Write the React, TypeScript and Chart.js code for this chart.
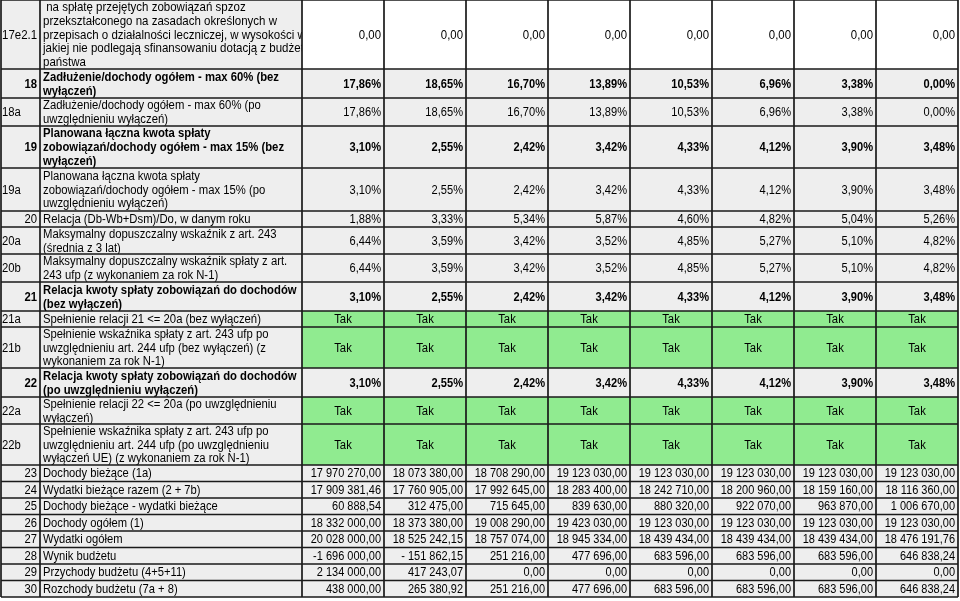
import { useEffect, useRef } from 'react';
import { Chart, registerables } from 'chart.js';

Chart.register(...registerables);

// ---------- DATA ----------
const hospitalDebtRepay = [0, 0, 0, 0, 0, 0, 0, 0];
const debtToIncome = [17.86, 18.65, 16.7, 13.89, 10.53, 6.96, 3.38, 0.0];
const repaymentToIncome = [3.1, 2.55, 2.42, 3.42, 4.33, 4.12, 3.9, 3.48];
const relationDbWbDsm = [1.88, 3.33, 5.34, 5.87, 4.6, 4.82, 5.04, 5.26];
const maxIndicatorAvg = [6.44, 3.59, 3.42, 3.52, 4.85, 5.27, 5.1, 4.82];
const maxIndicatorN1 = [6.44, 3.59, 3.42, 3.52, 4.85, 5.27, 5.1, 4.82];
const check21a = ['Tak', 'Tak', 'Tak', 'Tak', 'Tak', 'Tak', 'Tak', 'Tak'];
const check21b = ['Tak', 'Tak', 'Tak', 'Tak', 'Tak', 'Tak', 'Tak', 'Tak'];
const check22a = ['Tak', 'Tak', 'Tak', 'Tak', 'Tak', 'Tak', 'Tak', 'Tak'];
const check22b = ['Tak', 'Tak', 'Tak', 'Tak', 'Tak', 'Tak', 'Tak', 'Tak'];
const currentIncome = [17970270, 18073380, 18708290, 19123030, 19123030, 19123030, 19123030, 19123030];
const currentExpenses = [17909381.46, 17760905, 17992645, 18283400, 18242710, 18200960, 18159160, 18116360];
const currentBalance = [60888.54, 312475, 715645, 839630, 880320, 922070, 963870, 1006670];
const totalIncome = [18332000, 18373380, 19008290, 19423030, 19123030, 19123030, 19123030, 19123030];
const totalExpenses = [20028000, 18525242.15, 18757074, 18945334, 18439434, 18439434, 18439434, 18476191.76];
const budgetResult = [-1696000, -151862.15, 251216, 477696, 683596, 683596, 683596, 646838.24];
const budgetRevenues = [2134000, 417243.07, 0, 0, 0, 0, 0, 0];
const budgetOutflows = [438000, 265380.92, 251216, 477696, 683596, 683596, 683596, 646838.24];

// ---------- FORMATTERS ----------
const fmtNum = (v: number) => v.toFixed(2).replace('.', ',');
const fmtPct = (v: number) => v.toFixed(2).replace('.', ',') + '%';
const fmtMoney = (v: number) => {
  const abs = Math.abs(v);
  const [i, d] = abs.toFixed(2).split('.');
  const g = i.replace(/\B(?=(\d{3})+(?!\d))/g, ' ');
  const sign = v < 0 ? (abs < 1e6 ? '- ' : '-') : '';
  return sign + g + ',' + d;
};

type Tone = 'white' | 'gray' | 'green';
type Kind = 'head' | 'pct' | 'check' | 'money';
type Row = { id: string; label: string[]; values: string[]; bold?: boolean; tone: Tone; kind: Kind };

const rows: Row[] = [
  {
    id: '17e2.1',
    label: [
      ' na spłatę przejętych zobowiązań spzoz',
      'przekształconego na zasadach określonych w',
      'przepisach o działalności leczniczej, w wysokości w',
      'jakiej nie podlegają sfinansowaniu dotacją z budżetu',
      'państwa',
    ],
    values: hospitalDebtRepay.map(fmtNum),
    tone: 'white',
    kind: 'head',
  },
  { id: '18', label: ['Zadłużenie/dochody ogółem - max 60% (bez', 'wyłączeń)'], values: debtToIncome.map(fmtPct), bold: true, tone: 'gray', kind: 'pct' },
  { id: '18a', label: ['Zadłużenie/dochody ogółem - max 60% (po', 'uwzględnieniu wyłączeń)'], values: debtToIncome.map(fmtPct), tone: 'gray', kind: 'pct' },
  { id: '19', label: ['Planowana łączna kwota spłaty', 'zobowiązań/dochody ogółem - max 15% (bez', 'wyłączeń)'], values: repaymentToIncome.map(fmtPct), bold: true, tone: 'gray', kind: 'pct' },
  { id: '19a', label: ['Planowana łączna kwota spłaty', 'zobowiązań/dochody ogółem - max 15% (po', 'uwzględnieniu wyłączeń)'], values: repaymentToIncome.map(fmtPct), tone: 'gray', kind: 'pct' },
  { id: '20', label: ['Relacja (Db-Wb+Dsm)/Do, w danym roku'], values: relationDbWbDsm.map(fmtPct), tone: 'gray', kind: 'pct' },
  { id: '20a', label: ['Maksymalny dopuszczalny wskaźnik z art. 243', '(średnia z 3 lat)'], values: maxIndicatorAvg.map(fmtPct), tone: 'gray', kind: 'pct' },
  { id: '20b', label: ['Maksymalny dopuszczalny wskaźnik spłaty z art.', '243 ufp (z wykonaniem za rok N-1)'], values: maxIndicatorN1.map(fmtPct), tone: 'gray', kind: 'pct' },
  { id: '21', label: ['Relacja kwoty spłaty zobowiązań do dochodów', '(bez wyłączeń)'], values: repaymentToIncome.map(fmtPct), bold: true, tone: 'gray', kind: 'pct' },
  { id: '21a', label: ['Spełnienie relacji 21 <= 20a (bez wyłączeń)'], values: check21a, tone: 'green', kind: 'check' },
  { id: '21b', label: ['Spełnienie wskaźnika spłaty z art. 243 ufp po', 'uwzględnieniu art. 244 ufp (bez wyłączeń) (z', 'wykonaniem za rok N-1)'], values: check21b, tone: 'green', kind: 'check' },
  { id: '22', label: ['Relacja kwoty spłaty zobowiązań do dochodów', '(po uwzględnieniu wyłączeń)'], values: repaymentToIncome.map(fmtPct), bold: true, tone: 'gray', kind: 'pct' },
  { id: '22a', label: ['Spełnienie relacji 22 <= 20a (po uwzględnieniu', 'wyłączeń)'], values: check22a, tone: 'green', kind: 'check' },
  { id: '22b', label: ['Spełnienie wskaźnika spłaty z art. 243 ufp po', 'uwzględnieniu art. 244 ufp (po uwzględnieniu', 'wyłączeń UE) (z wykonaniem za rok N-1)'], values: check22b, tone: 'green', kind: 'check' },
  { id: '23', label: ['Dochody bieżące (1a)'], values: currentIncome.map(fmtMoney), tone: 'gray', kind: 'money' },
  { id: '24', label: ['Wydatki bieżące razem (2 + 7b)'], values: currentExpenses.map(fmtMoney), tone: 'gray', kind: 'money' },
  { id: '25', label: ['Dochody bieżące - wydatki bieżące'], values: currentBalance.map(fmtMoney), tone: 'gray', kind: 'money' },
  { id: '26', label: ['Dochody ogółem (1)'], values: totalIncome.map(fmtMoney), tone: 'gray', kind: 'money' },
  { id: '27', label: ['Wydatki ogółem'], values: totalExpenses.map(fmtMoney), tone: 'gray', kind: 'money' },
  { id: '28', label: ['Wynik budżetu'], values: budgetResult.map(fmtMoney), tone: 'gray', kind: 'money' },
  { id: '29', label: ['Przychody budżetu (4+5+11)'], values: budgetRevenues.map(fmtMoney), tone: 'gray', kind: 'money' },
  { id: '30', label: ['Rozchody budżetu (7a + 8)'], values: budgetOutflows.map(fmtMoney), tone: 'gray', kind: 'money' },
];

// ---------- LAYOUT / STYLE (scale units) ----------
const COL_EDGES = [1, 40, 302, 384, 466, 548, 630, 712, 794, 876, 958];
const ROW_HEIGHTS = [69, 29, 28, 42, 43, 16, 27, 28, 29, 16, 41, 29, 27, 41, 16.5, 16.5, 16.5, 16.5, 16.5, 16.5, 16.5, 16.5];
const FONT = '"Liberation Sans", Arial, Helvetica, sans-serif';
const LABEL_SIZE: Record<Kind, number> = { head: 11.5, pct: 11.3, check: 11.3, money: 11.2 };
const VALUE_SIZE: Record<Kind, number> = { head: 11.4, pct: 11.1, check: 11.3, money: 11 };
const STRETCH_Y = 1.16;
const LINE_H = 13.8;
const COLORS = { white: '#ffffff', gray: '#eeeeee', green: '#90eb90', border: '#1a1a1a', text: '#000000' };

const tablePlugin = {
  id: 'tablePlugin',
  afterDraw(chart: any) {
    const ctx: CanvasRenderingContext2D = chart.ctx;
    const xs = chart.scales.x;
    const ys = chart.scales.y;
    const X = COL_EDGES.map((e) => xs.getPixelForValue(e));
    const bounds: number[] = [0];
    ROW_HEIGHTS.forEach((h, i) => bounds.push(bounds[i] + h));
    const Y = bounds.map((b) => ys.getPixelForValue(b));

    ctx.save();
    ctx.fillStyle = '#ffffff';
    ctx.fillRect(0, 0, chart.width, chart.height);

    rows.forEach((row, r) => {
      const top = Y[r];
      const bot = Y[r + 1];
      const mid = (top + bot) / 2;
      ctx.fillStyle = COLORS.gray;
      ctx.fillRect(X[0], top, X[2] - X[0], bot - top);
      ctx.fillStyle = COLORS[row.tone];
      ctx.fillRect(X[2], top, X[10] - X[2], bot - top);

      const setFont = (size: number) => {
        ctx.font = `${row.bold ? 'bold ' : ''}${size}px ${FONT}`;
      };
      const text = (t: string, x: number, y: number, align: CanvasTextAlign, x0: number, x1: number) => {
        ctx.save();
        ctx.beginPath();
        ctx.rect(x0, top, x1 - x0, bot - top);
        ctx.clip();
        ctx.translate(x, y);
        ctx.scale(1, STRETCH_Y);
        ctx.textAlign = align;
        ctx.textBaseline = 'middle';
        ctx.fillStyle = COLORS.text;
        ctx.fillText(t, 0, 0);
        ctx.restore();
      };

      setFont(LABEL_SIZE[row.kind]);
      const numeric = /^\d+$/.test(row.id);
      text(row.id, numeric ? X[1] - 3 : X[0] + 1, mid + 0.5, numeric ? 'right' : 'left', X[0], X[1]);
      const n = row.label.length;
      row.label.forEach((line, li) => {
        text(line, X[1] + 3, mid + (li - (n - 1) / 2) * LINE_H + 0.5, 'left', X[1], X[2]);
      });
      setFont(VALUE_SIZE[row.kind]);
      row.values.forEach((v, c) => {
        const x0 = X[c + 2];
        const x1 = X[c + 3];
        if (row.tone === 'green') text(v, (x0 + x1) / 2, mid + 0.5, 'center', x0, x1);
        else text(v, x1 - 3, mid + 0.5, 'right', x0, x1);
      });
    });

    ctx.strokeStyle = COLORS.border;
    ctx.lineWidth = 1.7;
    ctx.beginPath();
    Y.forEach((y) => {
      ctx.moveTo(X[0], y);
      ctx.lineTo(X[10], y);
    });
    X.forEach((x) => {
      ctx.moveTo(x, Y[0]);
      ctx.lineTo(x, Y[Y.length - 1]);
    });
    ctx.stroke();
    ctx.restore();
  },
};

export default function App() {
  const ref = useRef<HTMLCanvasElement>(null);
  useEffect(() => {
    document.body.style.margin = '0';
    const chart = new Chart(ref.current as HTMLCanvasElement, {
      type: 'scatter',
      data: { datasets: [{ data: [], showLine: false }] },
      options: {
        animation: false,
        responsive: false,
        maintainAspectRatio: false,
        layout: { padding: 0 },
        events: [],
        plugins: { legend: { display: false }, tooltip: { enabled: false } },
        scales: {
          x: { type: 'linear', min: 0, max: 960, display: false },
          y: { type: 'linear', min: 0, max: 601, reverse: true, display: false },
        },
      },
      plugins: [tablePlugin],
    });
    return () => chart.destroy();
  }, []);
  return (
    <div style={{ position: 'absolute', left: 0, top: 0, width: 960, height: 601 }}>
      <canvas ref={ref} width={960} height={601} style={{ width: 960, height: 601, display: 'block' }} />
    </div>
  );
}
